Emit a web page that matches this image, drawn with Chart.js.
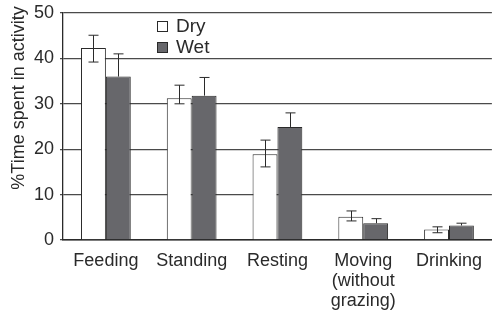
<!DOCTYPE html>
<html lang="en">
<head>
    <meta charset="UTF-8">
    <title>Time spent in activity</title>
    <script src="https://cdn.jsdelivr.net/npm/chart.js"></script>
    <style>
        html, body { margin: 0; padding: 0; background: #fff; }
        #wrap { width: 493px; height: 313px; }
    </style>
</head>
<body>
    <div id="wrap"><canvas id="activityChart"></canvas></div>

    <script>
        const categories = [['Feeding'], ['Standing'], ['Resting'], ['Moving', '(without', 'grazing)'], ['Drinking']];
        const dryValues = [42.3, 31.2, 18.9, 5.1, 2.3];
        const wetValues = [36.0, 31.8, 24.9, 3.7, 3.2];
        // error bar ends (upper / lower)
        const dryHigh = [45.1, 34.1, 22.0, 6.4, 2.9];
        const dryLow = [39.2, 30.0, 16.1, 4.2, 1.6];
        const wetHigh = [41.0, 35.8, 28.0, 4.7, 3.7];
        const wetLow = [31.0, 27.8, 21.8, 2.7, 2.7];
        const yTicks = [0, 10, 20, 30, 40, 50];

        const font = "'Liberation Sans', Arial, sans-serif";
        const ink = '#2a2a2a';
        const wetColor = '#67676b';

        const errorBars = {
            id: 'errorBars',
            afterDatasetsDraw(chart) {
                const ctx = chart.ctx;
                const y = chart.scales.y;
                const sets = [[dryHigh, dryLow, true], [wetHigh, wetLow, false]];
                ctx.save();
                ctx.strokeStyle = ink;
                ctx.lineWidth = 1;
                sets.forEach(([hi, lo, showLow], di) => {
                    chart.getDatasetMeta(di).data.forEach((bar, i) => {
                        const x = Math.round(bar.x) + 0.5;
                        const top = y.getPixelForValue(hi[i]);
                        const bottom = showLow ? y.getPixelForValue(lo[i]) : bar.y;
                        ctx.beginPath();
                        ctx.moveTo(x, top);
                        ctx.lineTo(x, bottom);
                        ctx.moveTo(x - 5, top);
                        ctx.lineTo(x + 5, top);
                        if (showLow) {
                            ctx.moveTo(x - 5, bottom);
                            ctx.lineTo(x + 5, bottom);
                        }
                        ctx.stroke();
                    });
                });
                ctx.restore();
            },
            afterDraw(chart) {
                const ctx = chart.ctx;
                ctx.save();
                // legend
                const items = [['Dry', '#ffffff', 21], ['Wet', wetColor, 42]];
                ctx.font = '19px ' + font;
                ctx.textBaseline = 'middle';
                items.forEach(([label, color, top]) => {
                    ctx.fillStyle = color;
                    ctx.fillRect(157, top, 10, 10);
                    ctx.strokeStyle = ink;
                    ctx.lineWidth = 1;
                    ctx.strokeRect(157.5, top + 0.5, 10, 10);
                    ctx.fillStyle = ink;
                    ctx.fillText(label, 176, top + 6);
                });
                // y title
                ctx.font = '18px ' + font;
                ctx.translate(19, 98);
                ctx.rotate(-Math.PI / 2);
                ctx.textAlign = 'center';
                ctx.fillText('%Time spent in activity', 0, 0);
                ctx.restore();
            }
        };

        new Chart(document.getElementById('activityChart'), {
            type: 'bar',
            data: {
                labels: categories,
                datasets: [
                    {
                        label: 'Dry',
                        data: dryValues,
                        backgroundColor: '#ffffff',
                        borderColor: ink,
                        borderWidth: 1
                    },
                    {
                        label: 'Wet',
                        data: wetValues,
                        backgroundColor: wetColor,
                        borderColor: ink,
                        borderWidth: 1
                    }
                ]
            },
            options: {
                responsive: true,
                maintainAspectRatio: false,
                animation: false,
                events: [],
                layout: { padding: { top: 13, right: 0, left: 0, bottom: 0 } },
                datasets: { bar: { categoryPercentage: 0.58, barPercentage: 1 } },
                plugins: {
                    legend: { display: false },
                    tooltip: { enabled: false }
                },
                scales: {
                    x: {
                        grid: { display: false, drawTicks: false },
                        border: { color: ink, width: 1.5 },
                        ticks: {
                            color: ink,
                            padding: 11,
                            maxRotation: 0,
                            autoSkip: false,
                            font: { family: font, size: 18, lineHeight: 1.12 }
                        },
                        afterFit(scale) { scale.height = 73; }
                    },
                    y: {
                        min: 0,
                        max: 50,
                        afterBuildTicks(scale) { scale.ticks = yTicks.map(v => ({ value: v })); },
                        grid: { color: '#4a4a4a', lineWidth: 1.3, tickLength: 3 },
                        border: { color: ink, width: 1.3 },
                        ticks: {
                            color: ink,
                            padding: 6,
                            font: { family: font, size: 18 }
                        },
                        afterFit(scale) {
                            scale.width = 63;
                            scale.paddingTop = 0;
                            scale.paddingBottom = 0;
                        }
                    }
                }
            },
            plugins: [errorBars]
        });
    </script>
</body>
</html>
